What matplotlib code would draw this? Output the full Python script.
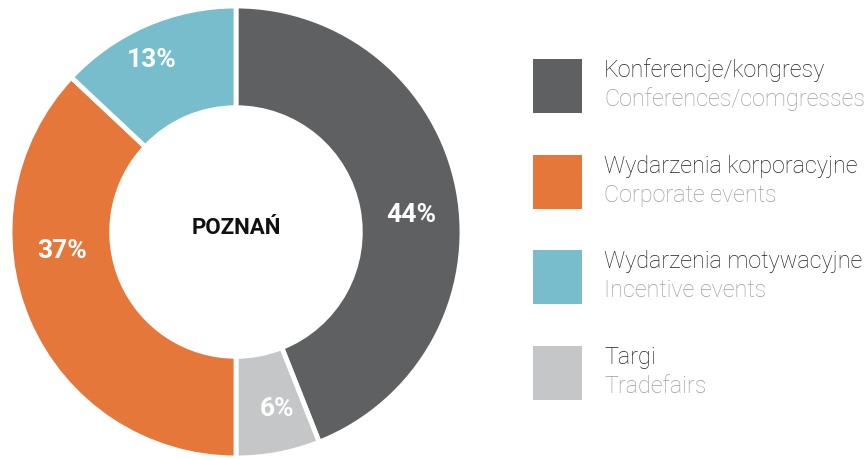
import numpy as np
import matplotlib.pyplot as plt
from matplotlib.patches import Rectangle

# dane
shares = [44, 6, 37, 13]
labels_pl = ['Konferencje/kongresy', 'Targi', 'Wydarzenia korporacyjne', 'Wydarzenia motywacyjne']
colors = ['#5f6062', '#c5c6c8', '#e5773a', '#77bdcb']

legend_order = [0, 2, 3, 1]
legend_pl = ['Konferencje/kongresy', 'Wydarzenia korporacyjne', 'Wydarzenia motywacyjne', 'Targi']
legend_en = ['Conferences/comgresses', 'Corporate events', 'Incentive events', 'Tradefairs']

# polozenie etykiet procentowych (kat w stopniach, promien)
label_angles = [6, -77, -174, 116]
label_radii = [0.78, 0.80, 0.775, 0.85]

W, H = 866, 460
fig = plt.figure(figsize=(W / 100, H / 100), dpi=100)
plt.rcParams['font.family'] = ['Roboto', 'DejaVu Sans']

# donut
cx, cy, r = 236, 233, 226
ax = fig.add_axes([(cx - r) / W, (H - cy - r) / H, 2 * r / W, 2 * r / H])
wedges, texts, autotexts = ax.pie(
    shares, colors=colors, startangle=90, counterclock=False, radius=1,
    autopct='%d%%', pctdistance=0.78,
    wedgeprops=dict(width=0.45, edgecolor='white', linewidth=3.5),
    textprops=dict(color='white', fontsize=19, fontweight='bold'))
for t, a, rr in zip(autotexts, label_angles, label_radii):
    t.set_position((rr * np.cos(np.radians(a)), rr * np.sin(np.radians(a))))
ax.set_xlim(-1, 1)
ax.set_ylim(-1, 1)
ax.set_aspect('equal')
ax.axis('off')
ax.text(0, 0.02, 'POZNAŃ', ha='center', va='center', fontsize=16, fontweight='bold', color='#111111')

# legenda
for i, idx in enumerate(legend_order):
    top = 60 + i * 95.7
    fig.add_artist(Rectangle((533 / W, (H - top - 54) / H), 49 / W, 54 / H,
                             transform=fig.transFigure, color=colors[idx], lw=0))
    fig.text(604 / W, (H - top - 17) / H, legend_pl[i], fontsize=16.8, fontweight='light',
             color='#231f20', va='baseline', ha='left')
    fig.text(604 / W, (H - top - 46) / H, legend_en[i], fontsize=16.8, fontweight='light',
             color='#9d9d9d', va='baseline', ha='left')

fig.savefig('out.png', dpi=100)
